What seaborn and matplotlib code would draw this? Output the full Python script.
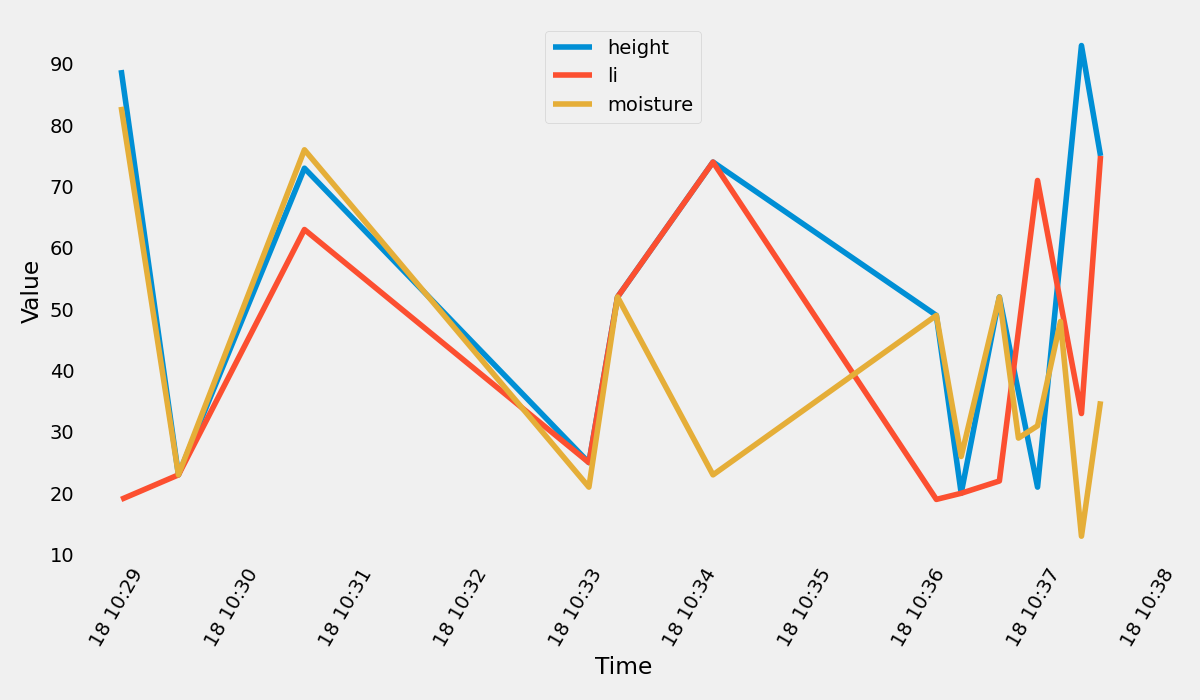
import numpy as np
import pandas as pd
import matplotlib
matplotlib.use('Agg')
import matplotlib.pyplot as plt
import matplotlib.dates as mdates
import seaborn as sns

plt.style.use('fivethirtyeight')

day = '2023-01-18 '
height_t = ['10:29:02', '10:29:32', '10:30:38', '10:33:07', '10:33:22', '10:34:12', '10:36:09',
            '10:36:22', '10:36:42', '10:37:02', '10:37:25', '10:37:35']
height_v = [89, 23, 73, 25, 52, 74, 49, 20, 52, 21, 93, 75]
li_t = ['10:29:02', '10:29:32', '10:30:38', '10:33:07', '10:33:22', '10:34:12', '10:36:09',
        '10:36:22', '10:36:42', '10:37:02', '10:37:25', '10:37:35']
li_v = [19, 23, 63, 25, 52, 74, 19, 20, 22, 71, 33, 75]
moist_t = ['10:29:02', '10:29:32', '10:30:38', '10:33:07', '10:33:22', '10:34:12', '10:36:09',
           '10:36:22', '10:36:42', '10:36:52', '10:37:02', '10:37:14', '10:37:25', '10:37:35']
moist_v = [83, 23, 76, 21, 52, 23, 49, 26, 52, 29, 31, 48, 13, 35]

frames = []
for name, tt, vv in [('height', height_t, height_v), ('li', li_t, li_v), ('moisture', moist_t, moist_v)]:
    frames.append(pd.DataFrame({'Time': pd.to_datetime([day + t for t in tt]), 'Value': vv, 'series': name}))
df = pd.concat(frames, ignore_index=True)

fig, ax = plt.subplots(figsize=(12, 7), dpi=100)
fig.patch.set_facecolor('#f0f0f0')
sns.lineplot(data=df, x='Time', y='Value', hue='series', linewidth=4, ax=ax,
             palette=['#008fd5', '#fc4f30', '#e5ae38'], estimator=None, sort=True)
ax.grid(False)
ax.set_xlim(pd.Timestamp(day + '10:28:40'), pd.Timestamp(day + '10:38:10'))
ax.xaxis.set_major_locator(mdates.MinuteLocator())
ax.xaxis.set_major_formatter(mdates.DateFormatter('%d %H:%M'))
plt.setp(ax.get_xticklabels(), rotation=60)
ax.set_yticks([10, 20, 30, 40, 50, 60, 70, 80, 90])
ax.set_xlabel('Time')
ax.set_ylabel('Value')
ax.legend(loc='upper center', title=None)
plt.tight_layout()
plt.savefig('out.png')
